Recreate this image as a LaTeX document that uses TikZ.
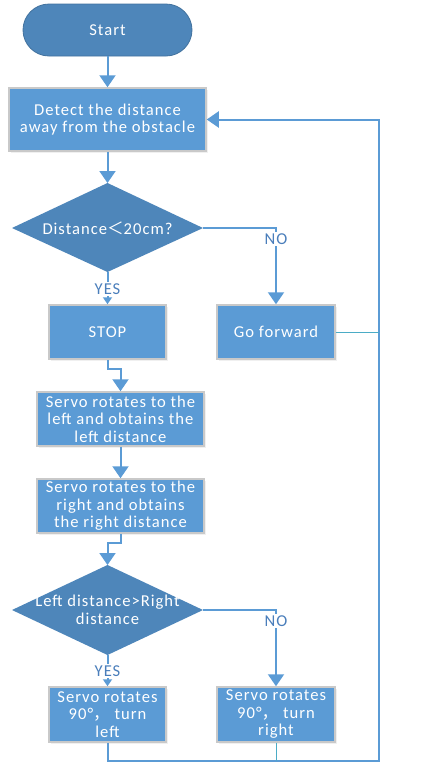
\documentclass[tikz,border=0pt]{standalone}
\usepackage{fontspec}
\setmainfont{Carlito}[LetterSpace=6.0]
\newfontfamily\cjk{Noto Sans CJK SC}
\usetikzlibrary{arrows.meta,shadows}
\definecolor{darkblue}{HTML}{4E86BA}
\definecolor{boxblue}{HTML}{5B9BD5}
\definecolor{lineblue}{HTML}{5B9BD5}
\definecolor{tealline}{HTML}{4BACC6}
\definecolor{labblue}{HTML}{4A7EBB}
\definecolor{rim}{HTML}{C9C9C9}
\tikzset{
  basefont/.style={font=\fontsize{16.6}{17.5}\selectfont},
  procbox/.style={basefont, rectangle, fill=boxblue, draw=rim, line width=1.5pt, text=white,
    align=center, inner sep=0pt, drop shadow={opacity=0.12, shadow xshift=2pt, shadow yshift=-2pt}},
  termbox/.style={basefont, rectangle, rounded corners=26pt, fill=darkblue, draw=darkblue!85!black,
    line width=0.8pt, text=white, inner sep=0pt},
  diabox/.style={fill=darkblue, draw=none},
  diatext/.style={basefont, text=white, align=center, inner sep=0pt},
  lbl/.style={basefont, text=labblue, fill=white, inner sep=1.5pt},
  conn/.style={draw=lineblue, line width=2pt},
  arr/.style={conn, -{Triangle[width=16pt,length=12pt]}},
  smallarr/.style={conn, -{Triangle[width=9pt,length=7pt]}},
  thin/.style={draw=tealline, line width=1pt},
}
\begin{document}
\begin{tikzpicture}[x=1pt,y=-1pt]
\useasboundingbox (0,0) rectangle (430,777);
% nodes
\node[termbox, minimum width=169pt, minimum height=52pt] (start) at (107.5,30) {Start};
\node[procbox, minimum width=197pt, minimum height=63pt] (detect) at (107.5,119.5) {Detect the distance\\away from the obstacle};
% diamond 1
\path[diabox] (12,228) -- (107.5,183) -- (203,228) -- (107.5,272) -- cycle;
\coordinate (d1n) at (107.5,183);
\coordinate (d1e) at (203,228);
\coordinate (d1s) at (107.5,272);
\node[diatext] (d1t) at (107.5,228) {Distance{\cjk ＜}20cm?};
\node[procbox, minimum width=117pt, minimum height=54pt] (stop) at (107.5,332) {STOP};
\node[procbox, minimum width=118pt, minimum height=54pt] (go) at (276,332) {Go forward};
\node[procbox, minimum width=167pt, minimum height=54pt] (s1) at (120.5,419) {Servo rotates to the\\left and obtains the\\left distance};
\node[procbox, minimum width=167pt, minimum height=54pt] (s2) at (120.5,506) {Servo rotates to the\\right and obtains\\the right distance};
% diamond 2
\path[diabox] (12,610) -- (107.5,565) -- (203,610) -- (107.5,655) -- cycle;
\coordinate (d2n) at (107.5,565);
\coordinate (d2e) at (203,610);
\coordinate (d2s) at (107.5,655);
\node[diatext] (d2t) at (107.5,610) {Left distance>Right\\distance};
\node[procbox, minimum width=117pt, minimum height=55pt] (tl) at (107.5,714.5) {Servo rotates\\90°{\cjk ，} turn\\left};
\node[procbox, minimum width=118pt, minimum height=55pt] (tr) at (276,714.5) {Servo rotates\\90°{\cjk ，} turn\\right};
\coordinate (loopbl) at (107.5,761);
\coordinate (loopbr) at (379,761);
% connectors
\draw[arr] (start) -- (detect);
\draw[arr] (detect) -- (d1n);
\draw[arr] (d1e) -| (go.north);
\node[lbl] (no1) at (276,239) {NO};
\draw[smallarr] (d1s) -- (stop.north);
\node[lbl] (yes1) at (107.5,289) {YES};
\draw[arr] (stop.south) -- ++(0,9) -| (s1.north);
\draw[arr] (s1) -- (s2);
\draw[arr] (s2.south) -- ++(0,9) -| (d2n);
\draw[arr] (d2e) -| (tr.north);
\node[lbl] (no2) at (276,621) {NO};
\draw[smallarr] (d2s) -- (tl.north);
\node[lbl] (yes2) at (107.5,671) {YES};
\draw[arr] (tl.south) -- (loopbl) -- (loopbr) |- (detect.east);
\draw[thin] (tr.south) -- (tr.south |- loopbl);
\draw[thin] (go.east) -- (go.east -| loopbr);
\end{tikzpicture}
\end{document}
